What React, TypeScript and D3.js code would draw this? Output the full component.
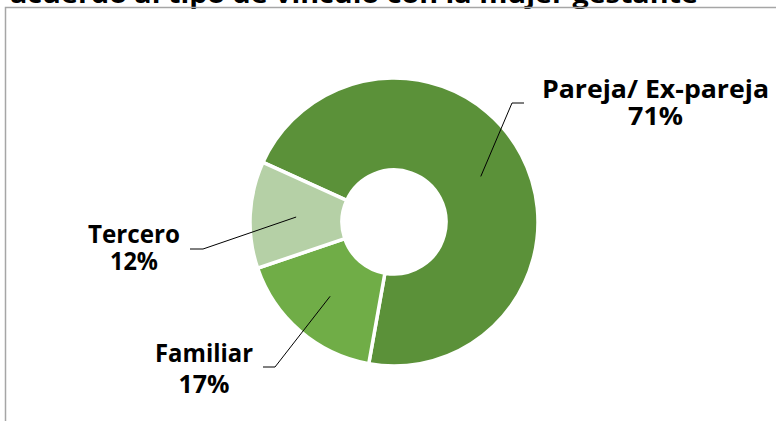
import React from "react";
import * as d3 from "d3";

const categories = ["Pareja/ Ex-pareja", "Familiar", "Tercero"];
const values = [71, 17, 12];
const percentLabels = ["71%", "17%", "12%"];
const colors = ["#5b9139", "#70ad47", "#b5d0a6"];
const titleLine = "acuerdo al tipo de vínculo con la mujer gestante";

const W = 776;
const H = 421;
const cx = 394;
const cy = 222;
const outerR = 144;
const innerR = 52;
const startDeg = 294.5;
const font = "'Open Sans', sans-serif";

// label layout: x center, baselines, text widths, leader elbow & end
const labelLayout = [
  { x: 655.5, y1: 98, y2: 125, w1: 227, w2: 55, ex: 512, ey: 103, endX: 524 },
  { x: 204, y1: 362, y2: 393, w1: 98, w2: 51, ex: 275, ey: 367, endX: 263 },
  { x: 134, y1: 243, y2: 270, w1: 92, w2: 48, ex: 203, ey: 249, endX: 190 },
];

export default function App() {
  const data = categories.map((c, i) => ({ name: c, value: values[i], pct: percentLabels[i], color: colors[i] }));
  const s = (startDeg * Math.PI) / 180;
  const pie = d3
    .pie<any>()
    .sort(null)
    .value((d: any) => d.value)
    .startAngle(s)
    .endAngle(s + 2 * Math.PI);
  const arcs = pie(data);
  const arc = d3.arc<any>().innerRadius(innerR).outerRadius(outerR);
  const line = d3.line();

  return (
    <svg
      width={W}
      height={H}
      style={{ position: "absolute", left: 0, top: 0, background: "#fff" }}
    >
      <rect x={0} y={0} width={W} height={H} fill="#fff" />
      <text
        x={10}
        y={3}
        fontFamily={font}
        fontWeight={700}
        fontSize={25}
        fill="#000"
        textLength={688}
        lengthAdjust="spacingAndGlyphs"
      >
        {titleLine}
      </text>
      <path d={`M5.5,${H} L5.5,7.5 L${W},7.5`} fill="none" stroke="#a6a6a6" strokeWidth={1.5} />
      <g transform={`translate(${cx},${cy})`}>
        {arcs.map((a, i) => (
          <path key={i} d={arc(a) as string} fill={a.data.color} stroke="#fff" strokeWidth={3.5} />
        ))}
      </g>
      {arcs.map((a, i) => {
        const [px, py] = arc.centroid(a);
        const L = labelLayout[i];
        const d = line([
          [cx + px, cy + py],
          [L.ex, L.ey],
          [L.endX, L.ey],
        ]);
        return <path key={"l" + i} d={d as string} fill="none" stroke="#000" strokeWidth={1} />;
      })}
      {arcs.map((a, i) => {
        const L = labelLayout[i];
        return (
          <g key={"t" + i} fontFamily={font} fontWeight={700} fontSize={25} fill="#000" textAnchor="middle">
            <text x={L.x} y={L.y1} textLength={L.w1} lengthAdjust="spacingAndGlyphs">{a.data.name}</text>
            <text x={L.x} y={L.y2} textLength={L.w2} lengthAdjust="spacingAndGlyphs">{a.data.pct}</text>
          </g>
        );
      })}
    </svg>
  );
}
